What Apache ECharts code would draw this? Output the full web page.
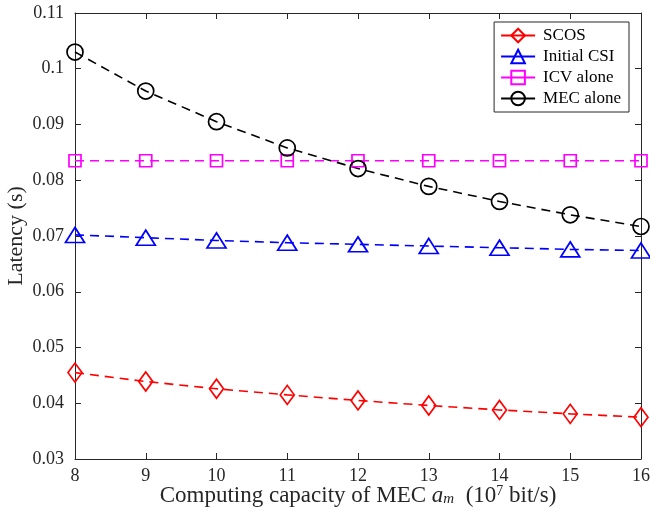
<!DOCTYPE html>
<html>
<head>
<meta charset="utf-8">
<script src="https://cdn.jsdelivr.net/npm/echarts@6/dist/echarts.min.js"></script>
<style>
html,body{margin:0;padding:0;background:#fff;}
#chart{width:650px;height:516px;}
</style>
</head>
<body>
<div id="chart"></div>
<script>
// Computing capacity of MEC (10^7 bit/s)
const capacity = [8, 9, 10, 11, 12, 13, 14, 15, 16];
// Latency (s) for each scheme
const scos       = [0.0455, 0.0439, 0.0426, 0.0415, 0.0405, 0.0396, 0.0388, 0.0381, 0.0375];
const initialCsi = [0.0702, 0.0697, 0.0692, 0.0688, 0.0685, 0.0682, 0.0679, 0.0676, 0.0674];
const icvAlone   = [0.0835, 0.0835, 0.0835, 0.0835, 0.0835, 0.0835, 0.0835, 0.0835, 0.0835];
const mecAlone   = [0.1030, 0.0960, 0.0905, 0.0858, 0.0821, 0.0789, 0.0762, 0.0738, 0.0717];
const seriesNames = ['SCOS', 'Initial CSI', 'ICV alone', 'MEC alone'];

const font = 'Liberation Serif, Times New Roman, serif';
const pair = (ys) => capacity.map((x, i) => [x, ys[i]]);

function lineSeries(name, ys, color, symbol, size) {
  return {
    name: name,
    type: 'line',
    data: pair(ys),
    symbol: symbol,
    symbolSize: size,
    showAllSymbol: true,
    lineStyle: { color: color, width: 1.6, type: [9, 6] },
    itemStyle: { color: 'rgba(255,255,255,0)', borderColor: color, borderWidth: 1.7 },
    emphasis: { disabled: true },
    z: 3
  };
}

const chart = echarts.init(document.getElementById('chart'), null, { renderer: 'canvas' });
const axisLine = { show: true, lineStyle: { color: '#262626', width: 1 } };
const tickIn = { show: true, inside: true, length: 6, lineStyle: { color: '#262626' } };
const ink = '#262626';

chart.setOption({
  animation: false,
  backgroundColor: '#fff',
  textStyle: { fontFamily: font },
  grid: { left: 75, right: 9, top: 13, bottom: 57, containLabel: false, outerBoundsMode: 'none' },
  legend: {
    right: 21, top: 22,
    orient: 'vertical',
    data: seriesNames,
    backgroundColor: '#fff',
    borderColor: ink,
    borderWidth: 1,
    borderRadius: 0,
    padding: [5, 8, 5, 6],
    itemGap: 4,
    itemWidth: 34,
    itemHeight: 17,
    lineStyle: { type: 'solid' },
    textStyle: { fontFamily: font, fontSize: 17, color: '#000', padding: [0, 0, 0, 3] }
  },
  xAxis: [{
    type: 'value', min: 8, max: 16, interval: 1,
    axisLine: axisLine, axisTick: tickIn, splitLine: { show: false },
    axisLabel: { fontFamily: font, fontSize: 18, color: ink, margin: 8 },
    name: '{t|Computing capacity of MEC }{i|a}{s|m}{t|  (10}{sup|7}{t| bit/s)}',
    nameLocation: 'middle', nameGap: 25, nameMoveOverlap: false,
    nameTextStyle: {
      rich: {
        t: { fontFamily: font, fontSize: 23, color: ink },
        i: { fontFamily: font, fontSize: 23, fontStyle: 'italic', color: ink },
        s: { fontFamily: font, fontSize: 15, fontStyle: 'italic', color: ink, verticalAlign: 'bottom', padding: [8, 0, 0, 0] },
        sup: { fontFamily: font, fontSize: 14, color: ink, verticalAlign: 'top', padding: [0, 0, 9, 0] }
      }
    }
  }, {
    type: 'value', min: 8, max: 16, interval: 1, position: 'top',
    axisLine: axisLine, axisTick: tickIn, axisLabel: { show: false }, splitLine: { show: false }
  }],
  yAxis: [{
    type: 'value', min: 0.03, max: 0.11, interval: 0.01,
    axisLine: axisLine, axisTick: tickIn, splitLine: { show: false },
    axisLabel: { fontFamily: font, fontSize: 18, color: ink, margin: 11,
      formatter: (v) => String(parseFloat(v.toFixed(3))) },
    name: 'Latency (s)', nameLocation: 'middle', nameGap: 48, nameMoveOverlap: false,
    nameTextStyle: { fontFamily: font, fontSize: 22, color: ink }
  }, {
    type: 'value', min: 0.03, max: 0.11, interval: 0.01, position: 'right',
    axisLine: axisLine, axisTick: tickIn, axisLabel: { show: false }, splitLine: { show: false }
  }],
  series: [
    lineSeries(seriesNames[0], scos, '#ff0000', 'diamond', [14, 19]),
    lineSeries(seriesNames[1], initialCsi, '#0000ff', 'triangle', [19, 15]),
    lineSeries(seriesNames[2], icvAlone, '#ff00ff', 'rect', [12, 12]),
    lineSeries(seriesNames[3], mecAlone, '#000000', 'circle', [16, 16])
  ]
});
</script>
</body>
</html>
